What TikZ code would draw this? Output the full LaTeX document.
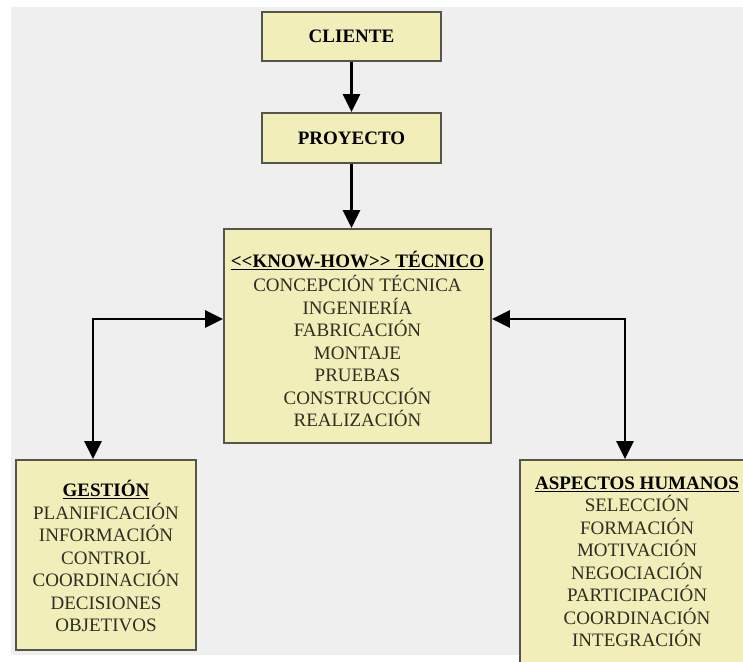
\documentclass[tikz,border=0pt]{standalone}
\usepackage{fontspec}
\setmainfont{Liberation Serif}
\usetikzlibrary{arrows.meta}
\definecolor{boxfill}{HTML}{F1EEBA}
\definecolor{boxline}{HTML}{55554A}
\definecolor{pagebg}{HTML}{EFEFEF}
\definecolor{itemtext}{HTML}{2E2E22}

\begin{document}
\begin{tikzpicture}[x=1pt,y=-1pt,
  panel/.style={draw=boxline,line width=1.8pt,fill=boxfill,inner sep=0pt},
  boxtext/.style={align=center,font=\fontsize{19}{22.5}\selectfont,text=itemtext,inner sep=0pt},
  link/.style={line width=2.6pt,-{Triangle[length=18pt,width=17pt]}},
  twoway/.style={line width=2.6pt,{Triangle[length=18pt,width=17pt]}-{Triangle[length=18pt,width=17pt]}}
]
\useasboundingbox (0,0) rectangle (743,661);
\clip (0,0) rectangle (743,661);

% page
\fill[white] (0,0) rectangle (743,661);
\fill[pagebg] (11,7) rectangle (743,655);

% top chain
\node[panel,minimum width=179pt,minimum height=49pt] (cliente) at (351.5,36.5)
  {\fontsize{19}{22.5}\selectfont\bfseries CLIENTE};
\node[panel,minimum width=179pt,minimum height=50pt] (proyecto) at (351.5,138)
  {\fontsize{19}{22.5}\selectfont\bfseries PROYECTO};

% technical know-how
\node[panel,minimum width=267pt,minimum height=214pt] (know) at (357.5,336) {};
\node[boxtext] (knowtxt) at (357.5,339) {%
  {\color{black}\bfseries\underline{<\kern0pt<KNOW-HOW>\kern0pt> TÉCNICO}}\\[1.5pt]
  CONCEPCIÓN TÉCNICA\\
  INGENIERÍA\\
  FABRICACIÓN\\
  MONTAJE\\
  PRUEBAS\\
  CONSTRUCCIÓN\\
  REALIZACIÓN};

% management
\node[panel,minimum width=180pt,minimum height=190pt] (gestion) at (106,555) {};
\node[boxtext] (gestiontxt) at (106,556) {%
  {\color{black}\bfseries\underline{GESTIÓN}}\\
  PLANIFICACIÓN\\
  INFORMACIÓN\\
  CONTROL\\
  COORDINACIÓN\\
  DECISIONES\\
  OBJETIVOS};

% human aspects (box runs past the page edge)
\node[panel,minimum width=235pt,minimum height=220pt] (humanos) at (637.5,570) {};
\node[boxtext] (humanostxt) at (637,562) {%
  {\color{black}\bfseries\underline{ASPECTOS HUMANOS}}\\
  SELECCIÓN\\
  FORMACIÓN\\
  MOTIVACIÓN\\
  NEGOCIACIÓN\\
  PARTICIPACIÓN\\
  COORDINACIÓN\\
  INTEGRACIÓN};

% connectors
\draw[link] (cliente.south) -- (proyecto.north);
\draw[link] (proyecto.south) -- (proyecto.south |- know.north);

\coordinate (gturn) at (93,319);
\coordinate (hturn) at (625,319);
\draw[twoway] (know.west |- gturn) -- (gturn) -- (gturn |- gestion.north);
\draw[twoway] (know.east |- hturn) -- (hturn) -- (hturn |- humanos.north);
\end{tikzpicture}
\end{document}
